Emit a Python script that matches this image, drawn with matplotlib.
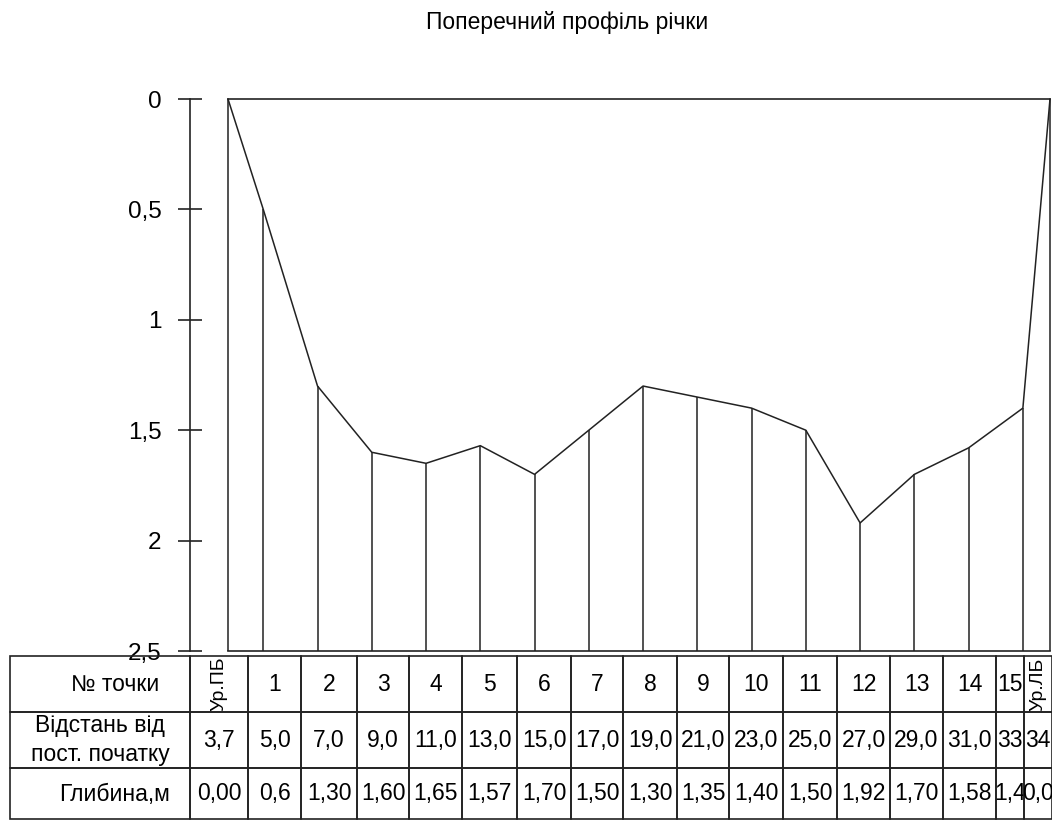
import matplotlib
matplotlib.use("Agg")
import matplotlib.pyplot as plt
import numpy as np

plt.rcParams['font.family'] = ['Liberation Sans', 'DejaVu Sans']

# данi профiлю
nomer = ["Ур.ПБ", "1", "2", "3", "4", "5", "6", "7", "8", "9", "10",
         "11", "12", "13", "14", "15", "Ур.ЛБ"]
vidstan = [3.7, 5.0, 7.0, 9.0, 11.0, 13.0, 15.0, 17.0, 19.0, 21.0, 23.0,
           25.0, 27.0, 29.0, 31.0, 33.0, 34.0]
glybyna = [0.0, 0.5, 1.30, 1.60, 1.65, 1.57, 1.70, 1.50, 1.30, 1.35, 1.40,
           1.50, 1.92, 1.70, 1.58, 1.40, 0.0]
vidstan_txt = ["3,7", "5,0", "7,0", "9,0", "11,0", "13,0", "15,0", "17,0",
               "19,0", "21,0", "23,0", "25,0", "27,0", "29,0", "31,0", "33", "34"]
glybyna_txt = ["0,00", "0,6", "1,30", "1,60", "1,65", "1,57", "1,70", "1,50",
               "1,30", "1,35", "1,40", "1,50", "1,92", "1,70", "1,58", "1,4", "0,0"]
ryadky = ["№ точки", "Відстань від\nпост. початку", "Глибина,м"]
y_ticks = [0, 0.5, 1, 1.5, 2, 2.5]
y_tick_txt = ["0", "0,5", "1", "1,5", "2", "2,5"]

W, H = 1052, 821
kolir = '#222222'
fig = plt.figure(figsize=(W / 100, H / 100), dpi=100)

# основний графiк
ax = fig.add_axes([228 / W, 1 - 651 / H, (1050 - 228) / W, (651 - 99) / H])
ax.plot(vidstan, glybyna, color=kolir, lw=1.1, clip_on=False)
ax.vlines(vidstan, glybyna, 2.5, color=kolir, lw=1.1, clip_on=False)
ax.set_xlim(vidstan[0], vidstan[-1])
ax.set_ylim(2.5, 0)
ax.set_xticks([])
ax.set_yticks(y_ticks)
ax.set_yticklabels(y_tick_txt)
ax.tick_params(axis='y', direction='inout', length=17, width=1.2, pad=12,
               color=kolir, labelsize=17.5)
ax.spines['left'].set_position(('outward', 38 * 0.72))
ax.spines['left'].set_bounds(0, 2.5)
ax.spines['right'].set_visible(False)
for s in ['left', 'top', 'bottom']:
    ax.spines[s].set_color(kolir)
    ax.spines[s].set_linewidth(1.2)

fig.text(567 / W, 1 - 22 / H, "Поперечний профіль річки", ha='center',
         va='center', fontsize=16.5)

# таблиця
tax = fig.add_axes([10 / W, 1 - 819 / H, (W - 10) / W, (819 - 656) / H])
tax.axis('off')
shyryny = [180, 58, 53, 56, 52, 53, 55, 54, 52, 54, 52, 54, 54, 53, 53, 53, 28, 28]
shyryny = [w / sum(shyryny) for w in shyryny]
komirky = [[""] + nomer, [""] + vidstan_txt, [""] + glybyna_txt]
tbl = tax.table(cellText=komirky, colWidths=shyryny, cellLoc='center',
                bbox=[0, 0, 1, 1])
tbl.auto_set_font_size(False)
tbl.set_fontsize(16.5)
vysoty = [56, 56, 51]
for (r, c), cell in tbl.get_celld().items():
    cell.set_height(vysoty[r])
    cell.set_linewidth(1.2)
    cell.set_edgecolor(kolir)
    cell.set_facecolor('none')
    cell.PAD = 0.02
for c in [1, len(nomer)]:
    t = tbl[(0, c)].get_text()
    t.set_rotation(90)
    t.set_fontsize(14)

# пiдписи рядкiв
tax.text(105 / 1042, 1 - 28 / 163, ryadky[0], ha='center',
         va='center', fontsize=16.5)
tax.text(90 / 1042, 1 - 84 / 163, ryadky[1], ha='center',
         va='center', fontsize=16.5, linespacing=1.3)
tax.text(105 / 1042, 1 - 138 / 163, ryadky[2], ha='center',
         va='center', fontsize=16.5)

fig.savefig("out.png", dpi=100)
